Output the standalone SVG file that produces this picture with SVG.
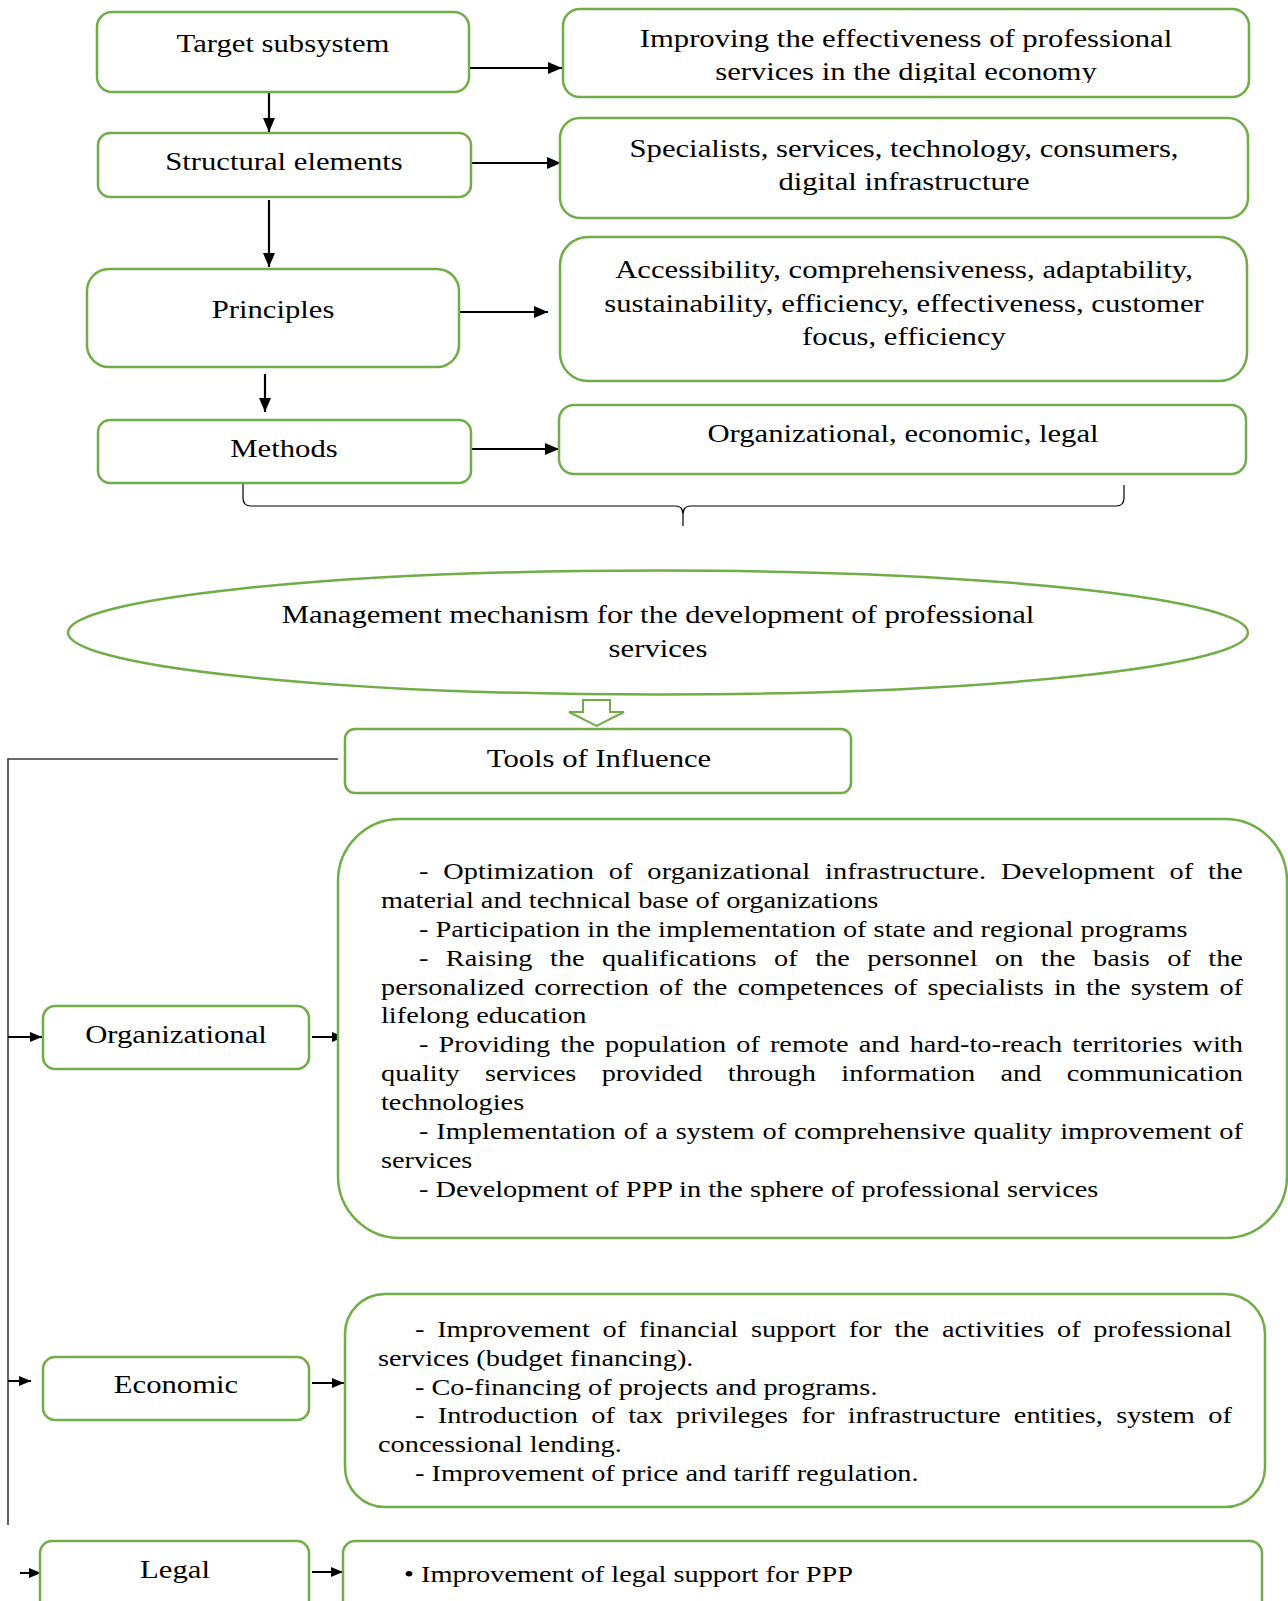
<svg xmlns="http://www.w3.org/2000/svg" width="1288" height="1601" viewBox="0 0 1288 1601">
<style>
  .box { fill: #ffffff; stroke: #70AD47; stroke-width: 2.5; }
  .lbl { font-family: "Liberation Serif", "Times New Roman", serif; font-size: 26px; fill: #000; text-anchor: middle; }
  .body { font-family: "Liberation Serif", "Times New Roman", serif; font-size: 23px; fill: #000; }
  .arr { stroke: #000; stroke-width: 2.2; fill: none; marker-end: url(#ah); }
  .sarr { stroke: #000; stroke-width: 2; fill: none; marker-end: url(#as); }
  .thin { stroke: #000; stroke-width: 1.2; fill: none; }
  .gray { stroke: #3a3a3a; stroke-width: 1.6; fill: none; }
</style>
<defs>
  <marker id="ah" viewBox="0 0 14 12" refX="14" refY="6" markerWidth="14" markerHeight="12" markerUnits="userSpaceOnUse" orient="auto">
    <path d="M0,0 L14,6 L0,12 Z" fill="#000"/>
  </marker>
  <marker id="as" viewBox="0 0 12 10" refX="12" refY="5" markerWidth="12" markerHeight="10" markerUnits="userSpaceOnUse" orient="auto">
    <path d="M0,0 L12,5 L0,10 Z" fill="#000"/>
  </marker>
  <clipPath id="clip1"><rect x="563" y="9" width="686" height="74"/></clipPath>
</defs>
<rect width="1288" height="1601" fill="#fff"/>

<g id="connectors">
  <line class="arr" x1="470" y1="68" x2="562" y2="68"/>
  <line class="arr" x1="269" y1="92" x2="269" y2="132"/>
  <line class="arr" x1="471" y1="163" x2="561" y2="163"/>
  <line class="arr" x1="269" y1="200" x2="269" y2="267"/>
  <line class="arr" x1="459" y1="312" x2="548" y2="312"/>
  <line class="arr" x1="265" y1="374" x2="265" y2="412"/>
  <line class="arr" x1="470" y1="449" x2="559" y2="449"/>
  <path class="thin" d="M243,484 L243,498 Q243,506 251,506 L675,506 Q683,506 683,514 L683,526 M683,514 Q683,506 691,506 L1116,506 Q1124,506 1124,498 L1124,485"/>
  <path d="M583,700 L610,700 L610,712 L624,712 L596.5,726 L569,712 L583,712 Z" fill="#fff" stroke="#70AD47" stroke-width="2"/>
  <path class="gray" d="M338,759 L8,759 L8,1525"/>
  <line class="sarr" x1="8" y1="1037" x2="42" y2="1037"/>
  <line class="sarr" x1="312" y1="1037" x2="344" y2="1037"/>
  <line class="sarr" x1="8" y1="1381" x2="31" y2="1381"/>
  <line class="sarr" x1="312" y1="1383" x2="344" y2="1383"/>
  <line class="sarr" x1="20" y1="1573" x2="41" y2="1573"/>
  <line class="sarr" x1="312" y1="1572" x2="343" y2="1572"/>
</g>

<g id="target-subsystem">
  <rect class="box" x="97" y="12" width="372" height="80" rx="15"/>
  <text class="lbl" transform="translate(283,52) scale(1.18,1)">Target subsystem</text>
</g>
<g id="goal">
  <rect class="box" x="563" y="9" width="686" height="88" rx="17"/>
  <g clip-path="url(#clip1)">
    <text class="lbl" transform="translate(906,47) scale(1.18,1)">Improving the effectiveness of professional</text>
    <text class="lbl" transform="translate(906,80) scale(1.18,1)">services in the digital economy</text>
  </g>
</g>
<g id="structural-elements">
  <rect class="box" x="98" y="133" width="373" height="64" rx="12"/>
  <text class="lbl" transform="translate(284,170) scale(1.18,1)">Structural elements</text>
</g>
<g id="elements-list">
  <rect class="box" x="560" y="118" width="688" height="100" rx="20"/>
  <text class="lbl" transform="translate(904,157) scale(1.18,1)">Specialists, services, technology, consumers,</text>
  <text class="lbl" transform="translate(904,190) scale(1.18,1)">digital infrastructure</text>
</g>
<g id="principles">
  <rect class="box" x="87" y="269" width="372" height="98" rx="22"/>
  <text class="lbl" transform="translate(273,318) scale(1.18,1)">Principles</text>
</g>
<g id="principles-list">
  <rect class="box" x="560" y="237" width="687" height="144" rx="28"/>
  <text class="lbl" transform="translate(904,278) scale(1.18,1)">Accessibility, comprehensiveness, adaptability,</text>
  <text class="lbl" transform="translate(904,312) scale(1.18,1)">sustainability, efficiency, effectiveness, customer</text>
  <text class="lbl" transform="translate(904,345) scale(1.18,1)">focus, efficiency</text>
</g>
<g id="methods">
  <rect class="box" x="98" y="420" width="373" height="63" rx="12"/>
  <text class="lbl" transform="translate(284,457) scale(1.18,1)">Methods</text>
</g>
<g id="methods-list">
  <rect class="box" x="559" y="405" width="687" height="69" rx="15"/>
  <text class="lbl" transform="translate(903,442) scale(1.18,1)">Organizational, economic, legal</text>
</g>

<g id="mechanism">
  <ellipse class="box" cx="658" cy="632.5" rx="590" ry="62"/>
  <text class="lbl" transform="translate(658,623) scale(1.18,1)">Management mechanism for the development of professional</text>
  <text class="lbl" transform="translate(658,657) scale(1.18,1)">services</text>
</g>

<g id="tools">
  <rect class="box" x="345" y="729" width="506" height="64" rx="10"/>
  <text class="lbl" transform="translate(599,767) scale(1.18,1)">Tools of Influence</text>
</g>

<g id="organizational">
  <rect class="box" x="43" y="1006" width="266" height="63" rx="12"/>
  <text class="lbl" transform="translate(176,1043) scale(1.18,1)">Organizational</text>
</g>
<g id="organizational-measures">
  <rect class="box" x="338" y="819" width="949" height="419" rx="62"/>
  <g class="body" transform="matrix(1.232 0 0 1 381 0)">
    <text x="30.8" y="879" word-spacing="6.2" textLength="668.8" lengthAdjust="spacing">- Optimization of organizational infrastructure. Development of the</text>
    <text x="0" y="908">material and technical base of organizations</text>
    <text x="30.8" y="937">- Participation in the implementation of state and regional programs</text>
    <text x="30.8" y="966" word-spacing="8.4" textLength="668.8" lengthAdjust="spacing">- Raising the qualifications of the personnel on the basis of the</text>
    <text x="0" y="995" word-spacing="2.4" textLength="699.7" lengthAdjust="spacing">personalized correction of the competences of specialists in the system of</text>
    <text x="0" y="1023">lifelong education</text>
    <text x="30.8" y="1052" word-spacing="2.4" textLength="668.8" lengthAdjust="spacing">- Providing the population of remote and hard-to-reach territories with</text>
    <text x="0" y="1081" word-spacing="14.8" textLength="699.7" lengthAdjust="spacing">quality services provided through information and communication</text>
    <text x="0" y="1110">technologies</text>
    <text x="30.8" y="1139" word-spacing="0.7" textLength="668.8" lengthAdjust="spacing">- Implementation of a system of comprehensive quality improvement of</text>
    <text x="0" y="1168">services</text>
    <text x="30.8" y="1197">- Development of PPP in the sphere of professional services</text>
  </g>
</g>

<g id="economic">
  <rect class="box" x="43" y="1357" width="266" height="63" rx="12"/>
  <text class="lbl" transform="translate(176,1393) scale(1.18,1)">Economic</text>
</g>
<g id="economic-measures">
  <rect class="box" x="345" y="1294" width="920" height="213" rx="40"/>
  <g class="body" transform="matrix(1.232 0 0 1 378 0)">
    <text x="30" y="1337" word-spacing="4.6" textLength="663.1" lengthAdjust="spacing">- Improvement of financial support for the activities of professional</text>
    <text x="0" y="1366">services (budget financing).</text>
    <text x="30" y="1395">- Co-financing of projects and programs.</text>
    <text x="30" y="1423" word-spacing="5.1" textLength="663.1" lengthAdjust="spacing">- Introduction of tax privileges for infrastructure entities, system of</text>
    <text x="0" y="1452">concessional lending.</text>
    <text x="30" y="1481">- Improvement of price and tariff regulation.</text>
  </g>
</g>

<g id="legal">
  <rect class="box" x="40" y="1541" width="269" height="80" rx="12"/>
  <text class="lbl" transform="translate(175,1578) scale(1.18,1)">Legal</text>
</g>
<g id="legal-measures">
  <rect class="box" x="343" y="1541" width="919" height="80" rx="12"/>
  <text class="body" transform="matrix(1.232 0 0 1 404 1582)">• Improvement of legal support for PPP</text>
</g>
</svg>
